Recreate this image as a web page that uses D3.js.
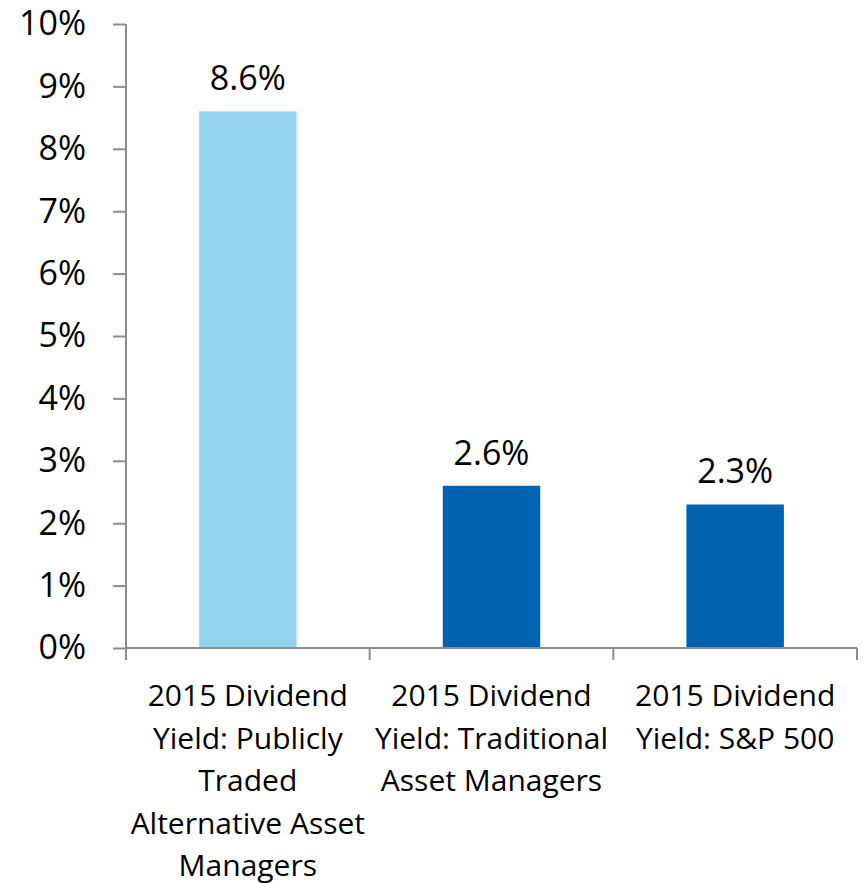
<!DOCTYPE html>
<html>
<head>
<meta charset="utf-8">
<script src="https://cdn.jsdelivr.net/npm/d3@7"></script>
<style>
  html, body { margin: 0; padding: 0; background: #fff; }
  svg { display: block; font-family: "Open Sans", sans-serif; }
  .axis path, .axis line { stroke: #8c8c8c; stroke-width: 2; }
</style>
</head>
<body>
<svg id="chart" width="865" height="883"></svg>
<script>
// data
const categories = [
  "2015 Dividend Yield: Publicly Traded Alternative Asset Managers",
  "2015 Dividend Yield: Traditional Asset Managers",
  "2015 Dividend Yield: S&P 500"
];
const categoryLines = [
  ["2015 Dividend", "Yield: Publicly", "Traded", "Alternative Asset", "Managers"],
  ["2015 Dividend", "Yield: Traditional", "Asset Managers"],
  ["2015 Dividend", "Yield: S&P 500"]
];
const yields = [8.6, 2.6, 2.3];
const barColors = ["#92d3f0", "#0063b1", "#0063b1"];
const yTicks = [0, 1, 2, 3, 4, 5, 6, 7, 8, 9, 10];

(function () {
  const svg = d3.select("#chart");
  const margin = { left: 126, right: 8, top: 24, bottom: 235 };
  const width = 865, height = 883;
  const plotBottom = height - margin.bottom;

  const x = d3.scaleBand()
    .domain(categories)
    .range([margin.left, 857])
    .paddingInner(0.6)
    .paddingOuter(0.3);

  const y = d3.scaleLinear().domain([0, 10]).range([648, margin.top]);

  // bars
  svg.selectAll("rect.bar")
    .data(yields)
    .join("rect")
    .attr("class", "bar")
    .attr("x", (d, i) => x(categories[i]))
    .attr("width", x.bandwidth())
    .attr("y", d => y(d))
    .attr("height", d => y(0) - y(d))
    .attr("fill", (d, i) => barColors[i]);

  // value labels
  svg.selectAll("text.val")
    .data(yields)
    .join("text")
    .attr("class", "val")
    .attr("x", (d, i) => x(categories[i]) + x.bandwidth() / 2)
    .attr("y", d => y(d) - 21)
    .attr("text-anchor", "middle")
    .attr("font-size", 34)
    .attr("fill", "#000")
    .text(d => d.toFixed(1) + "%");

  // y axis
  const yAxis = svg.append("g")
    .attr("class", "axis")
    .attr("transform", `translate(${margin.left},0)`)
    .call(d3.axisLeft(y).tickValues(yTicks).tickSize(13).tickPadding(27).tickFormat(d => d + "%"));
  yAxis.select(".domain").attr("d", `M0,${y(10)}V${y(0)}`);
  yAxis.selectAll("text").attr("font-size", 34).attr("fill", "#000").attr("font-family", "Open Sans, sans-serif");

  // x axis: ticks at category boundaries
  const step = x.step();
  const bounds = [0, 1, 2, 3].map(i => margin.left + i * (857 - margin.left) / 3);
  const xg = svg.append("g").attr("class", "axis");
  xg.append("line")
    .attr("x1", margin.left).attr("x2", 857)
    .attr("y1", y(0)).attr("y2", y(0));
  xg.selectAll("line.tick")
    .data(bounds)
    .join("line")
    .attr("class", "tick")
    .attr("x1", d => d).attr("x2", d => d)
    .attr("y1", y(0)).attr("y2", y(0) + 12);

  // category labels
  const lab = svg.selectAll("text.cat")
    .data(categories)
    .join("text")
    .attr("class", "cat")
    .attr("text-anchor", "middle")
    .attr("font-size", 30)
    .attr("fill", "#000");
  lab.each(function (d, i) {
    const cx = x(d) + x.bandwidth() / 2;
    d3.select(this).selectAll("tspan")
      .data(categoryLines[i])
      .join("tspan")
      .attr("x", cx)
      .attr("y", (t, j) => 706 + j * 42.5)
      .text(t => t);
  });
})();
</script>
</body>
</html>
